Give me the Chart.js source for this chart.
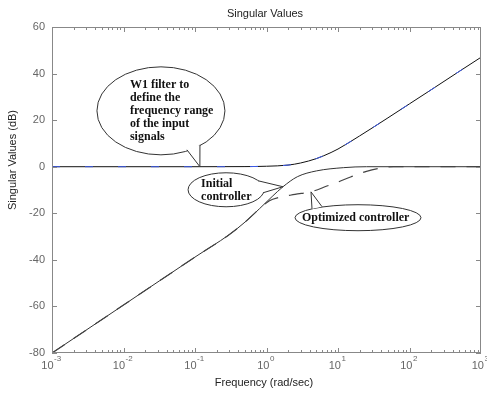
<!DOCTYPE html>
<html>
<head>
<meta charset="utf-8">
<script src="https://cdn.jsdelivr.net/npm/chart.js@4.4.1/dist/chart.umd.min.js"></script>
<style>
  html, body { margin: 0; padding: 0; background: #fff; }
</style>
</head>
<body>
<canvas id="chart" width="487" height="394"></canvas>
<script>
// frequencies (rad/sec) and singular values (dB)
const w1Freq = [0.001, 0.1, 0.5, 1, 2, 3, 5, 8, 10, 20, 50, 100, 200, 500, 1000];
const w1Db   = [0, 0, 0.05, 0.2, 0.7, 1.6, 3.5, 6.1, 7.6, 13.2, 21, 27, 33, 41, 47];

const initFreq = [0.001, 0.01, 0.1, 0.3, 0.5, 0.8, 1.2, 1.7, 2.7, 5, 12, 25, 1000];
const initDb   = [-80, -59.4, -38.8, -29.2, -23.8, -18, -12.8, -8.6, -4.3, -1.8, -0.4, 0, 0];

const optFreq = [0.001, 0.01, 0.1, 0.3, 0.5, 0.8, 1.1, 1.5, 2.5, 4.5, 7, 10, 15, 25, 40, 60, 1000];
const optDb   = [-80, -59.4, -38.8, -29.2, -23.8, -18, -14.6, -13.2, -11.9, -10.5, -8.3, -6.6, -4.4, -2.0, -0.6, 0, 0];

const xTickPowers = [-3, -2, -1, 0, 1, 2, 3];
const yTicks = [-80, -60, -40, -20, 0, 20, 40, 60];

// speech bubbles: anchor and tip in data units, the rest in pixels
const notes = [
  { lines: ['W1 filter to', 'define the', 'frequency range', 'of the input', 'signals'],
    at: [0.0334, 24], rx: 64, ry: 44, textDx: -31, lineDy: [-26, -13, 0, 13, 26],
    tip: [0.117, 0], base: [[26, 39], [39, 34]] },
  { lines: ['Initial', 'controller'],
    at: [0.272, -9.9], rx: 38, ry: 17, textDx: -25, lineDy: [-6, 7],
    tip: [1.7, -8.6], base: [[32, -9], [37, 3]] },
  { lines: ['Optimized controller'],
    at: [19.05, -21.9], rx: 63, ry: 13, textDx: -56, lineDy: [0],
    tip: [4.19, -10.8], base: [[-46, -9], [-36, -11]] }
];

const toPoints = (xs, ys) => xs.map((x, i) => ({x: x, y: ys[i]}));

const decorations = {
  id: 'decorations',
  afterDraw(chart) {
    const ctx = chart.ctx;
    const a = chart.chartArea;
    const xs = chart.scales.x, ys = chart.scales.y;
    ctx.save();

    // axes box
    ctx.strokeStyle = '#888';
    ctx.lineWidth = 1;
    ctx.strokeRect(a.left + 0.5, a.top + 0.5, a.right - a.left - 1, a.bottom - a.top - 1);

    // inner ticks, matlab style
    ctx.beginPath();
    for (let p = -3; p < 3; p++) {
      for (let m = 1; m <= 9; m++) {
        const px = Math.round(xs.getPixelForValue(m * Math.pow(10, p))) + 0.5;
        const len = m === 1 ? 5 : 3;
        ctx.moveTo(px, a.bottom); ctx.lineTo(px, a.bottom - len);
        ctx.moveTo(px, a.top); ctx.lineTo(px, a.top + len);
      }
    }
    yTicks.forEach(v => {
      const py = Math.round(ys.getPixelForValue(v)) + 0.5;
      ctx.moveTo(a.left, py); ctx.lineTo(a.left + 5, py);
      ctx.moveTo(a.right, py); ctx.lineTo(a.right - 5, py);
    });
    ctx.stroke();

    // x tick labels with superscript powers
    ctx.fillStyle = '#666';
    ctx.textBaseline = 'middle';
    ctx.textAlign = 'left';
    xTickPowers.forEach(p => {
      const px = xs.getPixelForValue(Math.pow(10, p));
      ctx.font = '11px "Liberation Sans"';
      const wBase = ctx.measureText('10').width;
      ctx.font = '8px "Liberation Sans"';
      const wExp = ctx.measureText(String(p)).width;
      const x0 = px - (wBase + wExp) / 2 - 1;
      ctx.font = '11px "Liberation Sans"';
      ctx.fillText('10', x0, a.bottom + 13);
      ctx.font = '8px "Liberation Sans"';
      ctx.fillText(String(p), x0 + wBase + 0.5, a.bottom + 6);
    });

    // titles
    ctx.fillStyle = '#222';
    ctx.font = '11px "Liberation Sans"';
    ctx.textAlign = 'center';
    ctx.fillText('Singular Values', 265, 14);
    ctx.fillText('Frequency (rad/sec)', 264, 383);
    ctx.save();
    ctx.translate(13, 160);
    ctx.rotate(-Math.PI / 2);
    ctx.fillText('Singular Values (dB)', 0, 0);
    ctx.restore();

    // speech bubbles
    notes.forEach(n => {
      const cx = xs.getPixelForValue(n.at[0]);
      const cy = ys.getPixelForValue(n.at[1]);
      const tx = xs.getPixelForValue(n.tip[0]);
      const ty = ys.getPixelForValue(n.tip[1]);
      ctx.strokeStyle = '#333';
      ctx.fillStyle = '#fff';
      ctx.beginPath();
      ctx.ellipse(cx, cy, n.rx, n.ry, 0, 0, Math.PI * 2);
      ctx.fill();
      ctx.stroke();
      ctx.beginPath();
      ctx.moveTo(cx + n.base[0][0], cy + n.base[0][1]);
      ctx.lineTo(tx, ty);
      ctx.lineTo(cx + n.base[1][0], cy + n.base[1][1]);
      ctx.closePath();
      ctx.fill();
      ctx.beginPath();
      ctx.moveTo(cx + n.base[0][0], cy + n.base[0][1]);
      ctx.lineTo(tx, ty);
      ctx.lineTo(cx + n.base[1][0], cy + n.base[1][1]);
      ctx.stroke();
      ctx.fillStyle = '#111';
      ctx.font = 'bold 12px "Liberation Serif"';
      ctx.textAlign = 'left';
      n.lines.forEach((t, i) => ctx.fillText(t, cx + n.textDx, cy + n.lineDy[i]));
    });
    ctx.restore();
  }
};

const ctx = document.getElementById('chart').getContext('2d');
new Chart(ctx, {
  type: 'line',
  data: {
    datasets: [{
      label: 'W1 (blue trace)',
      data: toPoints(w1Freq, w1Db),
      borderColor: '#3c5ae6',
      borderWidth: 1,
      borderDash: [8, 25],
      order: 0
    }, {
      label: 'W1',
      data: toPoints(w1Freq, w1Db),
      borderColor: '#111',
      borderWidth: 1,
      order: 1
    }, {
      label: 'Initial controller',
      data: toPoints(initFreq, initDb),
      borderColor: '#333',
      borderWidth: 1,
      order: 2
    }, {
      label: 'Optimized controller',
      data: toPoints(optFreq, optDb),
      borderColor: '#444',
      borderWidth: 1.2,
      borderDash: [15, 11],
      order: 1
    }]
  },
  options: {
    responsive: false,
    animation: false,
    events: [],
    elements: {
      point: { radius: 0 },
      line: { cubicInterpolationMode: 'monotone' }
    },
    layout: { padding: { top: 27, right: 6, left: 0, bottom: 0 } },
    plugins: { legend: { display: false }, tooltip: { enabled: false } },
    scales: {
      x: {
        type: 'logarithmic',
        min: 0.001,
        max: 1000,
        grid: { display: false },
        border: { display: false },
        ticks: { display: false },
        afterFit: s => { s.height = 41; }
      },
      y: {
        min: -80,
        max: 60,
        grid: { display: false, drawTicks: false },
        border: { display: false },
        ticks: {
          stepSize: 20,
          padding: 7,
          color: '#666',
          font: { family: 'Liberation Sans', size: 11 }
        },
        afterFit: s => { s.width = 52; }
      }
    }
  },
  plugins: [decorations]
});
</script>
</body>
</html>
